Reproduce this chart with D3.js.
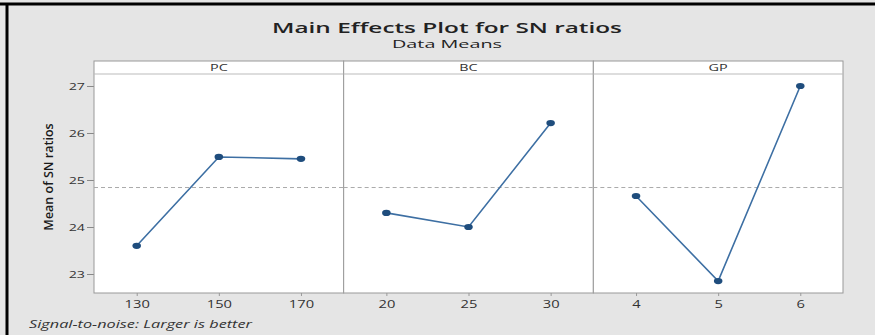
<!DOCTYPE html>
<html>
<head>
<meta charset="utf-8">
<script src="https://cdn.jsdelivr.net/npm/d3@7"></script>
<style>
  body { margin: 0; background: #fff; }
  svg { display: block; }
</style>
</head>
<body>
<svg id="chart" width="875" height="335"></svg>
<script>
// factors and their levels, SN ratio means
const factors = ['PC', 'BC', 'GP']
const levels = {
  PC: ['130', '150', '170'],
  BC: ['20', '25', '30'],
  GP: ['4', '5', '6']
}
const snMeans = {
  PC: [23.60, 25.49, 25.45],
  BC: [24.30, 24.00, 26.21],
  GP: [24.66, 22.85, 27.00]
}
const yTicks = [23, 24, 25, 26, 27]

const svg = d3.select('#chart')
const W = 875
const H = 335
const font = 'Open Sans, DejaVu Sans, sans-serif'

// the source picture is stretched sideways, so text is widened about its anchor
function stretch (sel, k) {
  sel.each(function () {
    const t = d3.select(this)
    const x = +t.attr('x') || 0
    t.attr('transform', `translate(${x * (1 - k)},0) scale(${k},1)`)
  })
}

// gray background with the black frame on top and left
svg.append('rect').attr('width', W).attr('height', H).attr('fill', '#e5e5e5')
svg.append('line').attr('x1', 0).attr('x2', W).attr('y1', 4).attr('y2', 4)
  .attr('stroke', '#000').attr('stroke-width', 3)
svg.append('line').attr('x1', 7).attr('x2', 7).attr('y1', 4).attr('y2', H)
  .attr('stroke', '#000').attr('stroke-width', 3)

const panelLeft = 94
const panelRight = 843
const panelTop = 61
const stripH = 13
const panelBottom = 293
const panelW = (panelRight - panelLeft) / factors.length

const grandMean = d3.mean(factors.flatMap(f => snMeans[f]))

const y = d3.scaleLinear().domain([22.596, 27.255]).range([panelBottom, panelTop + stripH])

svg.append('text')
  .attr('x', 447).attr('y', 33)
  .attr('text-anchor', 'middle')
  .attr('textLength', 350).attr('lengthAdjust', 'spacingAndGlyphs')
  .style('font-family', font)
  .style('font-size', '14px').style('font-weight', '600')
  .attr('fill', '#222')
  .text('Main Effects Plot for SN ratios')
svg.append('text')
  .attr('x', 447).attr('y', 48)
  .attr('text-anchor', 'middle')
  .attr('textLength', 110).attr('lengthAdjust', 'spacingAndGlyphs')
  .style('font-family', font)
  .style('font-size', '11px')
  .attr('fill', '#222')
  .text('Data Means')

// y axis
const yAxis = svg.append('g')
  .attr('class', 'y axis')
  .attr('transform', `translate(${panelLeft},0)`)
  .call(d3.axisLeft(y).tickValues(yTicks).tickSize(7).tickPadding(2).tickFormat(d3.format('d')))
yAxis.select('.domain').remove()
yAxis.selectAll('line').attr('stroke', '#888')
yAxis.selectAll('text')
  .style('font-family', font)
  .style('font-size', '9.5px').attr('fill', '#333')
  .call(stretch, 1.5)

svg.append('text')
  .attr('transform', `translate(53,177) rotate(-90)`)
  .attr('text-anchor', 'middle')
  .style('font-family', font)
  .style('font-size', '12.5px').style('font-weight', '600')
  .attr('fill', '#1a1a1a')
  .text('Mean of SN ratios')

factors.forEach((f, i) => {
  const x0 = panelLeft + i * panelW
  const g = svg.append('g').attr('transform', `translate(${x0},0)`)
  const x = d3.scalePoint().domain(levels[f]).range([0, panelW]).padding(0.52)

  g.append('rect')
    .attr('x', 0).attr('y', panelTop).attr('width', panelW).attr('height', panelBottom - panelTop)
    .attr('fill', '#fff').attr('stroke', '#999')
  g.append('line')
    .attr('x1', 0).attr('x2', panelW).attr('y1', panelTop + stripH).attr('y2', panelTop + stripH)
    .attr('stroke', '#bbb')
  g.append('text')
    .attr('x', panelW / 2).attr('y', panelTop + 10.5)
    .attr('text-anchor', 'middle')
    .style('font-family', font)
    .style('font-size', '9px').attr('fill', '#333')
    .text(f)
    .call(stretch, 1.6)

  // reference line at the grand mean
  g.append('line')
    .attr('x1', 0).attr('x2', panelW).attr('y1', y(grandMean)).attr('y2', y(grandMean))
    .attr('stroke', '#aaa').attr('stroke-dasharray', '4,3')

  const pts = levels[f].map((lv, j) => ({ lv, v: snMeans[f][j] }))
  g.append('path')
    .datum(pts)
    .attr('fill', 'none').attr('stroke', '#3d6fa3').attr('stroke-width', 1.6)
    .attr('d', d3.line().x(d => x(d.lv)).y(d => y(d.v)))
  g.selectAll('ellipse').data(pts).join('ellipse')
    .attr('cx', d => x(d.lv)).attr('cy', d => y(d.v))
    .attr('rx', 4.3).attr('ry', 3.1)
    .attr('fill', '#1f4d7d')

  const xAxis = g.append('g')
    .attr('class', 'x axis')
    .attr('transform', `translate(0,${panelBottom})`)
    .call(d3.axisBottom(x).tickSize(3).tickPadding(5))
  xAxis.select('.domain').remove()
  xAxis.selectAll('line').attr('stroke', '#999')
  xAxis.selectAll('text')
    .style('font-family', font)
    .style('font-size', '10.5px').attr('fill', '#333')
    .call(stretch, 1.4)
})

svg.append('text')
  .attr('x', 29).attr('y', 328)
  .attr('textLength', 223).attr('lengthAdjust', 'spacingAndGlyphs')
  .style('font-family', font)
  .style('font-size', '10px').style('font-style', 'italic')
  .attr('fill', '#333')
  .text('Signal-to-noise: Larger is better')
</script>
</body>
</html>
